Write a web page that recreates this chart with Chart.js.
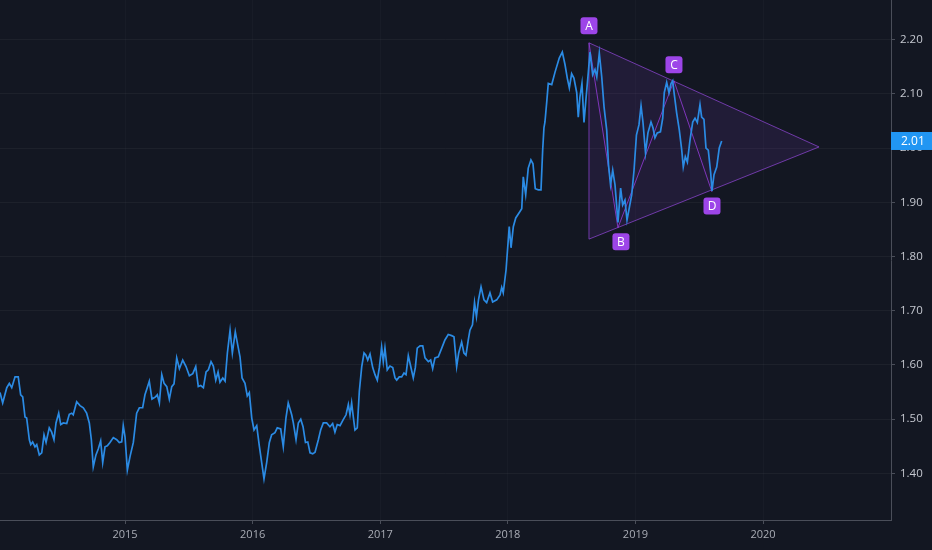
<!DOCTYPE html>
<html>
<head>
<meta charset="utf-8">
<script src="https://cdn.jsdelivr.net/npm/chart.js@4.4.1/dist/chart.umd.min.js"></script>
<style>
  html, body { margin: 0; padding: 0; background: #131722; }
  #wrap { width: 932px; height: 550px; }
</style>
</head>
<body>
<div id="wrap"><canvas id="priceChart" width="932" height="550"></canvas></div>
<script>
    // weekly closes, x as decimal year
    const years = [
        2014.020, 2014.041, 2014.073, 2014.093, 2014.112, 2014.138, 2014.163, 2014.182, 2014.198, 2014.216,
        2014.229, 2014.250, 2014.261, 2014.276, 2014.294, 2014.308, 2014.328, 2014.347, 2014.365, 2014.381,
        2014.406, 2014.425, 2014.443, 2014.459, 2014.480, 2014.496, 2014.516, 2014.543, 2014.563, 2014.582,
        2014.594, 2014.621, 2014.647, 2014.673, 2014.699, 2014.720, 2014.736, 2014.751, 2014.772, 2014.790,
        2014.809, 2014.825, 2014.843, 2014.861, 2014.882, 2014.908, 2014.935, 2014.955, 2014.974, 2014.986,
        2015.000, 2015.018, 2015.039, 2015.065, 2015.091, 2015.112, 2015.138, 2015.156, 2015.174, 2015.190,
        2015.211, 2015.239, 2015.253, 2015.269, 2015.288, 2015.306, 2015.327, 2015.347, 2015.366, 2015.384,
        2015.405, 2015.426, 2015.452, 2015.478, 2015.504, 2015.531, 2015.554, 2015.574, 2015.593, 2015.614,
        2015.635, 2015.653, 2015.674, 2015.692, 2015.711, 2015.729, 2015.744, 2015.766, 2015.784, 2015.802,
        2015.823, 2015.841, 2015.864, 2015.883, 2015.901, 2015.917, 2015.940, 2015.958, 2015.974, 2015.993,
        2016.011, 2016.032, 2016.052, 2016.071, 2016.089, 2016.110, 2016.131, 2016.149, 2016.175, 2016.193,
        2016.220, 2016.240, 2016.261, 2016.279, 2016.306, 2016.319, 2016.340, 2016.358, 2016.377, 2016.395,
        2016.414, 2016.432, 2016.450, 2016.471, 2016.489, 2016.515, 2016.533, 2016.554, 2016.580, 2016.606,
        2016.627, 2016.645, 2016.663, 2016.685, 2016.710, 2016.732, 2016.750, 2016.763, 2016.776, 2016.789,
        2016.802, 2016.820, 2016.836, 2016.855, 2016.873, 2016.888, 2016.902, 2016.920, 2016.941, 2016.959,
        2016.977, 2016.993, 2017.011, 2017.024, 2017.037, 2017.055, 2017.076, 2017.098, 2017.116, 2017.129,
        2017.149, 2017.168, 2017.186, 2017.202, 2017.220, 2017.239, 2017.259, 2017.275, 2017.290, 2017.312,
        2017.333, 2017.351, 2017.377, 2017.395, 2017.411, 2017.429, 2017.455, 2017.482, 2017.507, 2017.533,
        2017.560, 2017.578, 2017.599, 2017.615, 2017.638, 2017.656, 2017.672, 2017.690, 2017.703, 2017.723,
        2017.739, 2017.754, 2017.770, 2017.790, 2017.813, 2017.834, 2017.860, 2017.881, 2017.913, 2017.939,
        2017.952, 2017.964, 2017.986, 2018.011, 2018.025, 2018.043, 2018.062, 2018.090, 2018.109, 2018.121,
        2018.140, 2018.160, 2018.181, 2018.197, 2018.215, 2018.239, 2018.260, 2018.273, 2018.283, 2018.291,
        2018.305, 2018.317, 2018.344, 2018.370, 2018.403, 2018.427, 2018.448, 2018.466, 2018.482, 2018.500,
        2018.518, 2018.540, 2018.552, 2018.565, 2018.581, 2018.597, 2018.613, 2018.631, 2018.644, 2018.665,
        2018.683, 2018.697, 2018.717, 2018.736, 2018.754, 2018.775, 2018.789, 2018.805, 2018.822, 2018.840,
        2018.863, 2018.884, 2018.900, 2018.918, 2018.934, 2018.953, 2018.971, 2018.989, 2019.008, 2019.028,
        2019.044, 2019.059, 2019.079, 2019.098, 2019.122, 2019.138, 2019.153, 2019.171, 2019.196, 2019.214,
        2019.226, 2019.245, 2019.263, 2019.279, 2019.292, 2019.305, 2019.323, 2019.344, 2019.363, 2019.375,
        2019.391, 2019.407, 2019.428, 2019.449, 2019.467, 2019.485, 2019.506, 2019.519, 2019.537, 2019.553,
        2019.571, 2019.590, 2019.600, 2019.616, 2019.637, 2019.657, 2019.676
    ];
    const prices = [
        1.549, 1.530, 1.558, 1.566, 1.558, 1.578, 1.578, 1.545, 1.541, 1.504,
        1.502, 1.462, 1.453, 1.458, 1.449, 1.453, 1.434, 1.438, 1.471, 1.457,
        1.484, 1.476, 1.462, 1.493, 1.511, 1.490, 1.493, 1.492, 1.509, 1.511,
        1.508, 1.532, 1.525, 1.521, 1.511, 1.493, 1.462, 1.412, 1.434, 1.445,
        1.460, 1.420, 1.449, 1.451, 1.457, 1.466, 1.462, 1.457, 1.458, 1.488,
        1.467, 1.406, 1.431, 1.457, 1.511, 1.521, 1.521, 1.545, 1.558, 1.570,
        1.537, 1.541, 1.545, 1.530, 1.582, 1.566, 1.560, 1.537, 1.560, 1.565,
        1.613, 1.593, 1.609, 1.597, 1.580, 1.584, 1.597, 1.560, 1.562, 1.558,
        1.587, 1.591, 1.606, 1.598, 1.572, 1.587, 1.568, 1.576, 1.570, 1.622,
        1.664, 1.622, 1.661, 1.637, 1.615, 1.576, 1.566, 1.543, 1.549, 1.502,
        1.480, 1.488, 1.451, 1.420, 1.390, 1.420, 1.457, 1.471, 1.475, 1.484,
        1.482, 1.449, 1.502, 1.530, 1.508, 1.493, 1.462, 1.493, 1.500, 1.486,
        1.457, 1.458, 1.438, 1.436, 1.439, 1.462, 1.480, 1.493, 1.493, 1.486,
        1.492, 1.476, 1.490, 1.488, 1.499, 1.508, 1.527, 1.508, 1.530, 1.504,
        1.480, 1.484, 1.551, 1.597, 1.622, 1.618, 1.609, 1.620, 1.595, 1.582,
        1.572, 1.595, 1.633, 1.606, 1.631, 1.591, 1.598, 1.595, 1.576, 1.572,
        1.578, 1.578, 1.585, 1.582, 1.617, 1.597, 1.576, 1.595, 1.631, 1.635,
        1.635, 1.613, 1.606, 1.609, 1.593, 1.613, 1.615, 1.631, 1.646, 1.656,
        1.654, 1.652, 1.597, 1.622, 1.642, 1.622, 1.618, 1.646, 1.664, 1.674,
        1.715, 1.689, 1.720, 1.744, 1.720, 1.715, 1.733, 1.716, 1.720, 1.729,
        1.743, 1.733, 1.775, 1.855, 1.816, 1.855, 1.871, 1.881, 1.888, 1.947,
        1.914, 1.963, 1.978, 1.971, 1.925, 1.923, 1.923, 1.996, 2.037, 2.048,
        2.085, 2.119, 2.117, 2.140, 2.166, 2.177, 2.154, 2.129, 2.111, 2.137,
        2.129, 2.102, 2.057, 2.094, 2.119, 2.047, 2.092, 2.140, 2.177, 2.135,
        2.145, 2.131, 2.175, 2.131, 2.076, 2.033, 1.969, 1.932, 1.959, 1.932,
        1.863, 1.926, 1.895, 1.904, 1.867, 1.891, 1.914, 1.959, 2.024, 2.043,
        2.078, 2.048, 1.991, 2.028, 2.048, 2.037, 2.019, 2.028, 2.030, 2.055,
        2.102, 2.121, 2.102, 2.119, 2.124, 2.098, 2.065, 2.033, 1.996, 1.965,
        1.984, 1.974, 2.015, 2.048, 2.055, 2.047, 2.080, 2.057, 2.053, 2.000,
        1.996, 1.954, 1.921, 1.951, 1.965, 2.000, 2.013
    ];

    // ABCD pattern and triangle drawing
    const patternLabels = ['A', 'B', 'C', 'D'];
    const patternX = [2018.636, 2018.863, 2019.302, 2019.600];
    const patternY = [2.194, 1.853, 2.124, 1.919];
    const triangleX = [2018.636, 2020.439, 2018.636, 2018.636];
    const triangleY = [2.194, 2.002, 1.832, 2.194];

    const xTicks = [2015, 2016, 2017, 2018, 2019, 2020];
    const yTicks = [1.4, 1.5, 1.6, 1.7, 1.8, 1.9, 2.0, 2.1, 2.2];

    const bgColor = '#131722';
    const lineColor = '#2b8be4';
    const purple = '#9d45e8';
    const axisColor = '#4a4e59';

    const pricePoints = years.map((x, i) => ({ x: x, y: prices[i] }));
    const patternPoints = patternX.map((x, i) => ({ x: x, y: patternY[i] }));
    const trianglePoints = triangleX.map((x, i) => ({ x: x, y: triangleY[i] }));

    // 배경
    const bgPlugin = {
        id: 'bg',
        beforeDraw(chart) {
            const ctx = chart.ctx;
            ctx.save();
            ctx.fillStyle = bgColor;
            ctx.fillRect(0, 0, chart.width, chart.height);
            ctx.restore();
        }
    };

    // A B C D badges + last price tag
    const labelPlugin = {
        id: 'labels',
        afterDraw(chart) {
            const ctx = chart.ctx;
            const xs = chart.scales.x, ys = chart.scales.y;
            const offsets = [-17, 14, -16, 14];
            ctx.save();
            ctx.font = '12px "Open Sans", sans-serif';
            ctx.textAlign = 'center';
            ctx.textBaseline = 'middle';
            patternLabels.forEach((t, i) => {
                const px = xs.getPixelForValue(patternX[i]) + (i === 1 ? 3 : 0);
                const py = ys.getPixelForValue(patternY[i]) + offsets[i];
                ctx.fillStyle = purple;
                ctx.beginPath();
                ctx.roundRect(px - 8.5, py - 8.5, 17, 17, 3);
                ctx.fill();
                ctx.fillStyle = '#ffffff';
                ctx.fillText(t, px, py + 0.5);
            });

            const last = prices[prices.length - 1];
            const ly = ys.getPixelForValue(last);
            const left = chart.chartArea.right;
            ctx.fillStyle = '#2196f3';
            ctx.fillRect(left, ly - 9, chart.width - left, 18);
            ctx.fillStyle = '#ffffff';
            ctx.textAlign = 'left';
            ctx.font = '12px "Open Sans", sans-serif';
            ctx.fillText(last.toFixed(2), left + 10, ly + 0.5);
            ctx.restore();
        }
    };

    new Chart(document.getElementById('priceChart'), {
        type: 'line',
        data: {
            datasets: [{
                data: trianglePoints,
                borderColor: 'rgba(140, 70, 210, 0.75)',
                borderWidth: 1,
                backgroundColor: 'rgba(130, 60, 200, 0.13)',
                fill: 'shape',
                pointRadius: 0,
                order: 3
            }, {
                data: pricePoints,
                borderColor: lineColor,
                borderWidth: 1.7,
                pointRadius: 0,
                fill: false,
                tension: 0,
                order: 1
            }, {
                data: patternPoints,
                borderColor: 'rgba(150, 60, 220, 0.8)',
                borderWidth: 1,
                pointRadius: 0,
                fill: false,
                order: 2
            }]
        },
        options: {
            responsive: false,
            animation: false,
            layout: { padding: 0 },
            plugins: {
                legend: { display: false },
                tooltip: { enabled: false }
            },
            scales: {
                x: {
                    type: 'linear',
                    min: 2014.020,
                    max: 2021.003,
                    afterBuildTicks: (scale) => { scale.ticks = xTicks.map(v => ({ value: v })); },
                    afterFit: (scale) => {
                        scale.height = 30;
                        scale.paddingLeft = 0;
                        scale.paddingRight = 0;
                    },
                    grid: {
                        color: 'rgba(255, 255, 255, 0.025)',
                        tickColor: axisColor,
                        tickLength: 4
                    },
                    border: { color: axisColor, width: 1 },
                    ticks: {
                        color: '#a9acb5',
                        font: { size: 11, family: '"Open Sans", sans-serif' },
                        padding: 4,
                        maxRotation: 0,
                        callback: (v) => String(v)
                    }
                },
                y: {
                    type: 'linear',
                    position: 'right',
                    min: 1.314,
                    max: 2.273,
                    afterBuildTicks: (scale) => { scale.ticks = yTicks.map(v => ({ value: v })); },
                    afterFit: (scale) => {
                        scale.width = 41;
                        scale.paddingTop = 0;
                        scale.paddingBottom = 0;
                    },
                    grid: {
                        color: 'rgba(255, 255, 255, 0.045)',
                        tickColor: axisColor,
                        tickLength: 4
                    },
                    border: { color: axisColor, width: 1 },
                    ticks: {
                        color: '#c5c8d0',
                        font: { size: 11.5, family: '"Open Sans", sans-serif' },
                        padding: 5,
                        callback: (v) => Number(v).toFixed(2)
                    }
                }
            }
        },
        plugins: [bgPlugin, labelPlugin]
    });
</script>
</body>
</html>
